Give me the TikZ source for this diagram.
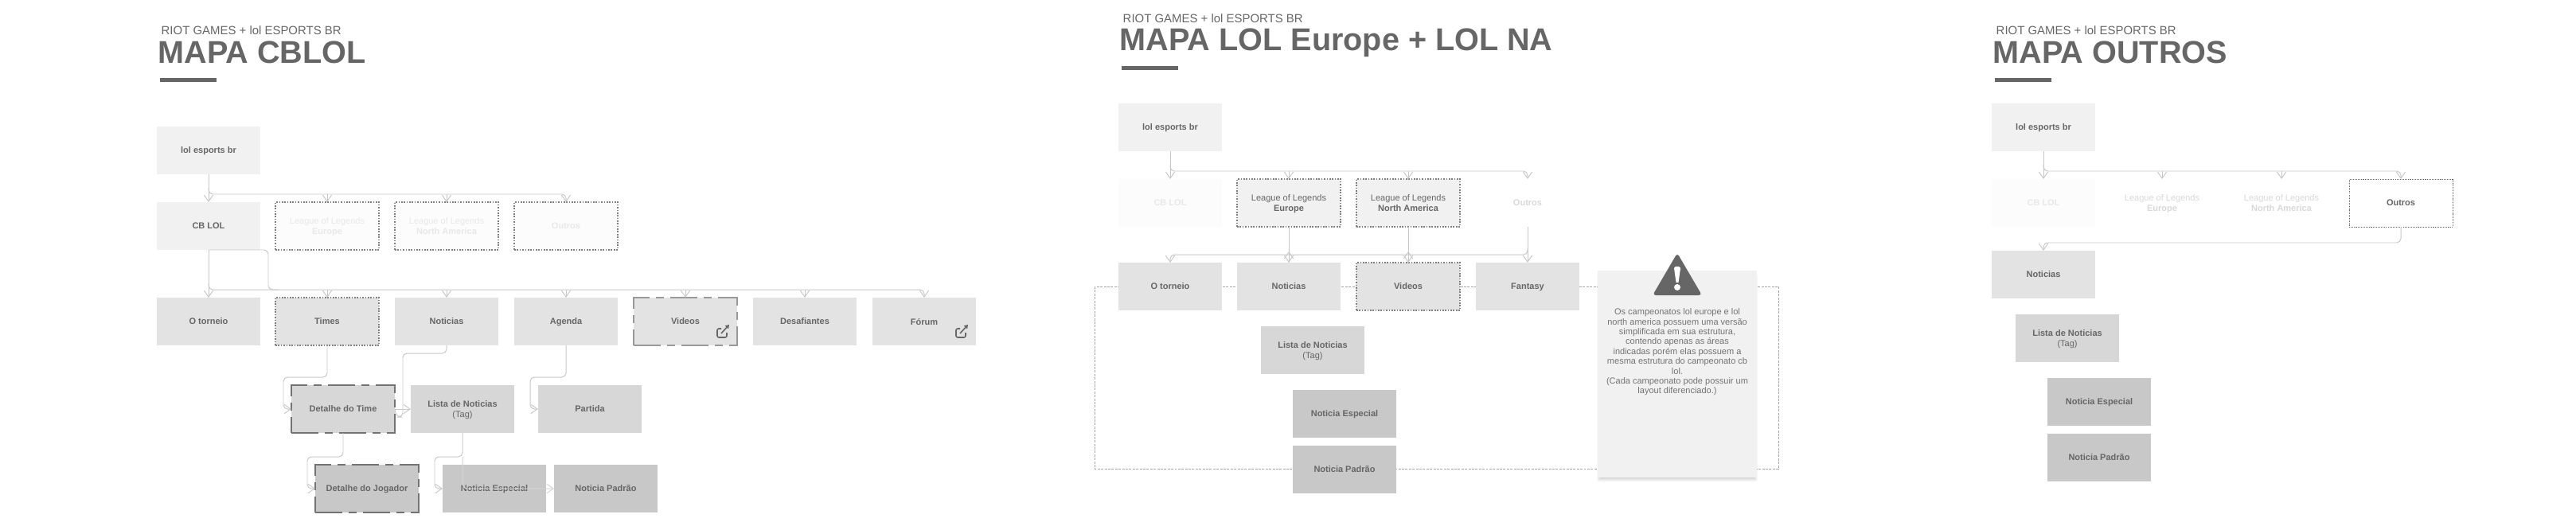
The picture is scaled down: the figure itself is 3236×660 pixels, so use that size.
\documentclass[tikz,border=0pt]{standalone}
\usepackage{fontspec}
\setmainfont{Liberation Sans}
\usetikzlibrary{arrows.meta, shadows.blur}
\definecolor{ink}{HTML}{666666}
\definecolor{wirec}{HTML}{C8C8C8}
\newcommand{\boxfont}{\fontsize{3.13}{3.7}\selectfont\bfseries}
\tikzset {
    box/.style={rectangle, inner sep=0pt, outer sep=0pt, minimum width=13mm, minimum height=6mm, align=center, text=ink, text depth=0pt, font=\boxfont},
    lv1/.style={box, fill=black!5.5},
    lv2/.style={box, fill=black!11},
    lv3/.style={box, fill=black!15.5},
    lv4/.style={box, fill=black!21.5},
    ghost/.style={box, fill=black!1.2, text=black!9},
    faint/.style={box, fill=white, text=black!15},
    dotbox/.style={draw=black!50, line width=.45pt, dash pattern=on .48pt off .48pt},
    dashbox/.style={draw=black!#1, line width=.55pt, dash pattern=on 9.67pt off 2.28pt on 2.85pt off 2.28pt},
    wire/.style={draw=wirec, line width=.28pt, rounded corners=1.5pt, -{Straight Barb[length=2.3pt, width=3.2pt]}},
    sub/.style={anchor=base west, inner sep=0pt, text=ink, font=\fontsize{4.25}{5}\selectfont},
    head/.style={anchor=base west, inner sep=0pt, text=ink, font=\fontsize{11.27}{13}\selectfont\bfseries},
    bar/.style={inner sep=0pt, fill=ink, minimum width=7.1mm, minimum height=.5mm},
    card/.style={inner sep=0pt, outer sep=0pt, fill=black!5.5, minimum width=20mm, minimum height=26mm, blur shadow={shadow xshift=0pt, shadow yshift=-1.4pt, shadow scale=.985, shadow blur radius=.9pt, shadow blur steps=6, shadow opacity=18}},
    notetxt/.style={anchor=north, inner sep=0pt, align=center, text=black!55, font=\fontsize{3.13}{3.53}\selectfont},
    extlink/.pic={
        \draw [ink, line width=.45pt, rounded corners=.6pt] (6, 5) -- (1, 5) -- (1, 16) -- (13, 16) -- (13, 10);
        \draw [ink, line width=.45pt, -{Triangle[length=1.3pt, width=1.6pt]}] (6, 11) -- (16, 0);
    },
}
\begin{document}
\begin{tikzpicture}[x=.1mm, y=-.1mm]
    \useasboundingbox (0, 0) rectangle (3236, 660);
    \draw [draw=black!35, line width=.28pt, dash pattern=on .85pt off .4pt] (1375, 360) rectangle (2234, 589);

    \node (subA) at (202, 43) [sub] {RIOT GAMES + lol ESPORTS BR};
    \node (headA) at (198, 79) [head] {MAPA CBLOL};
    \node (barA) at (236.5, 100.5) [bar] {};
    \node (lolA) at (262, 189) [lv1] {lol esports br};
    \node (cbA) at (262, 284) [lv1] {CB LOL};
    \node (euA) at (411, 284) [ghost, dotbox] {{\mdseries League of Legends}\\Europe};
    \node (naA) at (561, 284) [ghost, dotbox] {{\mdseries League of Legends}\\North America};
    \node (otA) at (711, 284) [ghost, dotbox] {Outros};
    \node (torA) at (262, 404) [lv2] {O torneio};
    \node (timA) at (411, 404) [lv2, dotbox] {Times};
    \node (notA) at (561, 404) [lv2] {Noticias};
    \node (ageA) at (711, 404) [lv2] {Agenda};
    \node (vidA) at (861, 404) [lv2, dashbox=40] {Videos};
    \node (desA) at (1011, 404) [lv2] {Desafiantes};
    \node (forA) at (1161, 404) [lv2] {Fórum};
    \node (dtmA) at (431, 514) [lv3, dashbox=55] {Detalhe do Time};
    \node (lisA) at (581, 514) [lv3] {Lista de Noticias\\{\mdseries (Tag)}};
    \node (parA) at (741, 514) [lv3] {Partida};
    \node (djgA) at (461, 614) [lv4, dashbox=55] {Detalhe do Jogador};
    \node (espA) at (621, 614) [lv4] {Noticia Especial};
    \node (padA) at (761, 614) [lv4] {Noticia Padrão};
    \pic at (900, 408) {extlink};
    \pic at (1200, 408) {extlink};

    \coordinate (busA) at (262, 244);
    \coordinate (busB) at (262, 364);
    \coordinate (sideB) at (337, 364);
    \draw [wire] (lolA.south) -- (cbA.north);
    \draw [wire] (busA) ++(0, -8) -- (busA) -- (otA.north |- busA) -- (otA.north);
    \foreach \n in {euA, naA}
        \draw [wire] (\n.north |- busA) -- (\n.north);
    \draw [wire] (cbA.south) -- (torA.north);
    \draw [wire] (busB) ++(0, -8) -- (busB) -- (forA.north |- busB) -- (forA.north);
    \foreach \n in {timA, notA, ageA, vidA, desA}
        \draw [wire] (\n.north |- busB) -- (\n.north);
    \draw [wire, -] (cbA.south) -- (sideB |- cbA.south) -- (sideB) -- (350, 364);
    \draw [wire] (timA.south) -- (411, 474) -- (356, 474) -- (356, 514) -- (dtmA.west);
    \draw [wire, -] (notA.south) -- (561, 444) -- (506, 444) -- (506, 524) -- (498, 524) -- (dtmA.east);
    \draw [wire] (dtmA.east) -- (lisA.west);
    \draw [wire] (ageA.south) -- (711, 474) -- (666, 474) -- (666, 514) -- (parA.west);
    \draw [wire] (dtmA.south) -- (431, 574) -- (386, 574) -- (386, 614) -- (djgA.west);
    \draw [wire] (lisA.south) -- (581, 574) -- (546, 574) -- (546, 614) -- (espA.west);
    \draw [wire, draw=black!17] (581, 574) -- (581, 614) -- (padA.west);

    \node (subB) at (1410, 28) [sub] {RIOT GAMES + lol ESPORTS BR};
    \node (headB) at (1406, 63.5) [head] {MAPA LOL Europe + LOL NA};
    \node (barB) at (1444.5, 85.5) [bar] {};
    \node (lolB) at (1470, 160) [lv1] {lol esports br};
    \node (cbB) at (1470, 255) [ghost] {CB LOL};
    \node (euB) at (1619, 255) [lv1, dotbox] {{\mdseries League of Legends}\\Europe};
    \node (naB) at (1769, 255) [lv1, dotbox] {{\mdseries League of Legends}\\North America};
    \node (otB) at (1919, 255) [faint] {Outros};
    \node (torB) at (1470, 360) [lv2] {O torneio};
    \node (notB) at (1619, 360) [lv2] {Noticias};
    \node (vidB) at (1769, 360) [lv2, dotbox] {Videos};
    \node (fanB) at (1919, 360) [lv2] {Fantasy};
    \node (lisB) at (1649, 440) [lv3] {Lista de Noticias\\{\mdseries (Tag)}};
    \node (espB) at (1689, 520) [lv4] {Noticia Especial};
    \node (padB) at (1689, 590) [lv4] {Noticia Padrão};
    \node (cardB) at (2107, 470) [card] {};
    \fill [ink, rounded corners=1.1pt] (2107, 318) -- (2138, 371) -- (2076, 371) -- cycle;
    \fill [white] (2103, 337) .. controls (2103, 334) and (2111, 334) .. (2111, 337) -- (2108.5, 355) -- (2105.5, 355) -- cycle;
    \fill [white] (2107, 361) circle (4);
    \node (txtB) at (2107, 387) [notetxt] {Os campeonatos lol europe e lol\\north america possuem uma versão\\simplificada em sua estrutura,\\contendo apenas as áreas\\indicadas porém elas possuem a\\mesma estrutura do campeonato cb\\lol.\\(Cada campeonato pode possuir um\\layout diferenciado.)};

    \coordinate (busC) at (1470, 215);
    \coordinate (busD) at (1919, 320);
    \coordinate (tipB) at (1619, 316);
    \draw [wire] (lolB.south) -- (cbB.north);
    \draw [wire] (busC) ++(0, -8) -- (busC) -- (otB.north |- busC) -- (otB.north);
    \foreach \n in {euB, naB}
        \draw [wire] (\n.north |- busC) -- (\n.north);
    \draw [wire] (euB.south) -- (notB.north);
    \draw [wire] (naB.south) -- (vidB.north);
    \draw [wire] (otB.south) -- (fanB.north);
    \draw [wire] (busD) ++(0, -8) -- (busD) -- (torB.north |- busD) -- (torB.north);
    \foreach \n in {notB, vidB}
        \draw [wire] (\n.north) -- (\n.north |- tipB);

    \node (subC) at (2507, 43) [sub] {RIOT GAMES + lol ESPORTS BR};
    \node (headC) at (2503, 79) [head] {MAPA OUTROS};
    \node (barC) at (2541.5, 100.5) [bar] {};
    \node (lolC) at (2567, 160) [lv1] {lol esports br};
    \node (cbC) at (2567, 255) [ghost] {CB LOL};
    \node (euC) at (2716, 255) [faint] {{\mdseries League of Legends}\\Europe};
    \node (naC) at (2866, 255) [faint] {{\mdseries League of Legends}\\North America};
    \node (otC) at (3016, 255) [box, fill=white, draw=black!60, line width=.28pt, dash pattern=on .3pt off .3pt] {Outros};
    \node (notC) at (2567, 345) [lv2] {Noticias};
    \node (lisC) at (2597, 425) [lv3] {Lista de Noticias\\{\mdseries (Tag)}};
    \node (espC) at (2637, 505) [lv4] {Noticia Especial};
    \node (padC) at (2637, 575) [lv4] {Noticia Padrão};

    \coordinate (busE) at (2567, 215);
    \coordinate (busF) at (3016, 305);
    \draw [wire] (lolC.south) -- (cbC.north);
    \draw [wire] (busE) ++(0, -8) -- (busE) -- (otC.north |- busE) -- (otC.north);
    \foreach \n in {euC, naC}
        \draw [wire] (\n.north |- busE) -- (\n.north);
    \draw [wire] (otC.south) -- (busF) -- (notC.north |- busF) -- (notC.north);
\end{tikzpicture}
\end{document}
